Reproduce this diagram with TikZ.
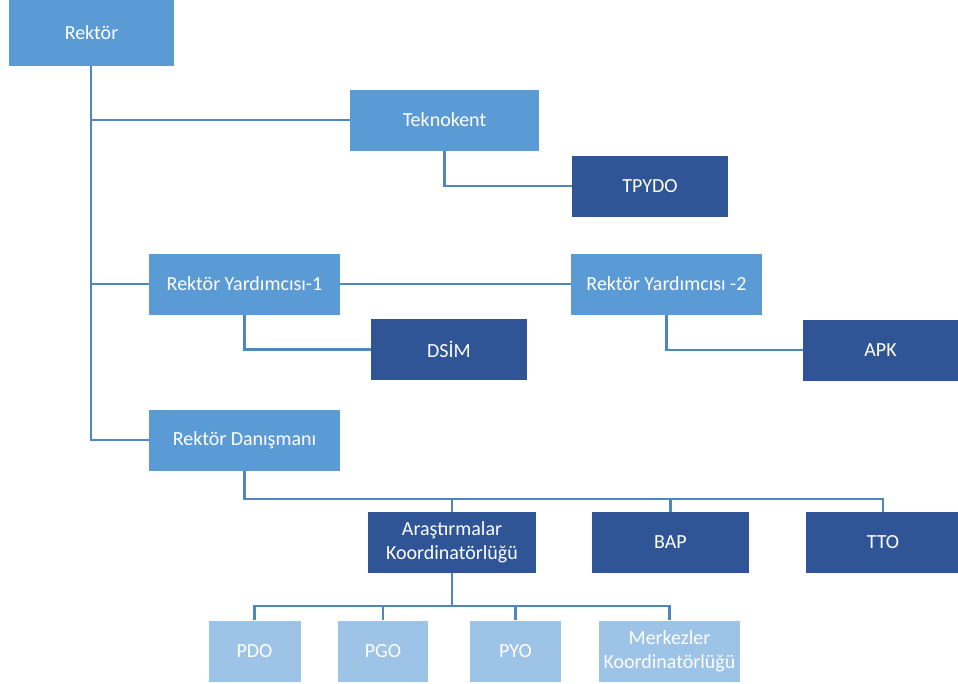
\documentclass[tikz,border=0pt]{standalone}
\usepackage{fontspec}
\setmainfont{Carlito}
\usetikzlibrary{positioning,calc}
\definecolor{MidBlue}{HTML}{5B9BD5}
\definecolor{DarkBlue}{HTML}{2F5597}
\definecolor{LightBlue}{HTML}{9DC3E6}
\definecolor{LineBlue}{HTML}{4F86C0}

\begin{document}
\begin{tikzpicture}[x=1pt, y=-1pt,
		every node/.style={inner sep=0pt, align=center, text=white, font=\fontsize{20}{24}\selectfont},
		mid/.style={fill=MidBlue, minimum height=61pt},
		dark/.style={fill=DarkBlue, minimum height=61pt},
		light/.style={fill=LightBlue, minimum height=61pt},
		link/.style={draw=LineBlue, line width=2.4pt}
		]
		\useasboundingbox (0,0) rectangle (958,683);

		\node[mid, minimum width=165pt, minimum height=66pt] (rektor) at (91.5,33) {Rektör};
		\node[mid, minimum width=189pt] (tekno) at (444.5,120) {Teknokent};
		\node[dark, minimum width=156pt] (tpydo) at (650,186) {TPYDO};
		\node[mid, minimum width=191pt] (ry1) at (244.5,284) {Rektör Yardımcısı-1};
		\node[mid, minimum width=191pt] (ry2) at (666.5,284) {Rektör Yardımcısı -2};
		\node[dark, minimum width=156pt] (dsim) at (449,349.5) {DSİM};
		\node[dark, minimum width=155pt] (apk) at (880.5,350) {APK};
		\node[mid, minimum width=191pt] (dan) at (244.5,440) {Rektör Danışmanı};
		\node[dark, minimum width=168pt] (arast) at (452,542.5) {Araştırmalar\\Koordinatörlüğü};
		\node[dark, minimum width=157pt] (bap) at (670.5,542.5) {BAP};
		\node[dark, minimum width=154pt] (tto) at (883,542.5) {TTO};
		\node[light, minimum width=92pt] (pdo) at (254.5,651) {PDO};
		\node[light, minimum width=90pt] (pgo) at (383,651) {PGO};
		\node[light, minimum width=91pt] (pyo) at (515.5,651) {PYO};
		\node[light, minimum width=141pt] (merk) at (669.5,651) {Merkezler\\Koordinatörlüğü};

		\coordinate (spine) at (91,0);
		\coordinate (busA) at (0,499);
		\coordinate (busB) at (0,606);

		\draw[link] (rektor.south -| spine) -- (spine |- dan.west) -- (dan.west);
		\draw[link] (spine |- tekno.west) -- (tekno.west);
		\draw[link] (spine |- ry1.west) -- (ry1.west);
		\draw[link] (tekno.south) |- (tpydo.west);
		\draw[link] (ry1.east) -- (ry2.west);
		\draw[link] (ry1.south) |- (dsim.west);
		\draw[link] (ry2.south) |- (apk.west);

		\draw[link] (dan.south) |- (tto.north |- busA) -- (tto.north);
		\draw[link] (arast.north |- busA) -- (arast.north);
		\draw[link] (bap.north |- busA) -- (bap.north);

		\draw[link] (arast.south) -- (arast.south |- busB);
		\draw[link] (pdo.north) |- (merk.north |- busB) -- (merk.north);
		\draw[link] (pgo.north |- busB) -- (pgo.north);
		\draw[link] (pyo.north |- busB) -- (pyo.north);
	\end{tikzpicture}
\end{document}
